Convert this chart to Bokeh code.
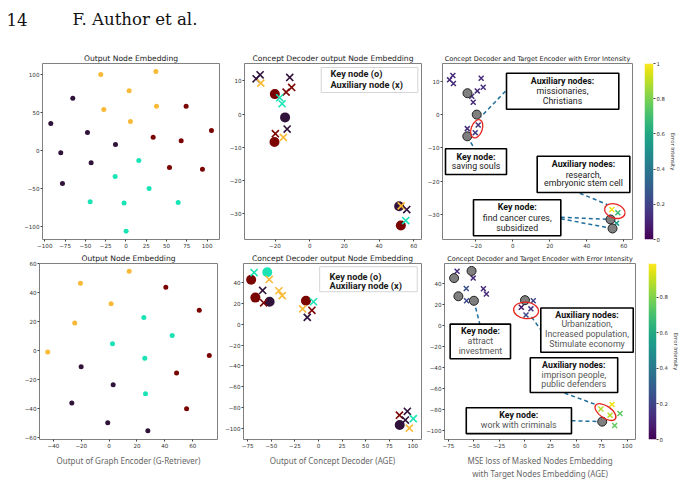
import numpy as np
from bokeh.plotting import figure
from bokeh.layouts import column, row
from bokeh.models import Range1d, FixedTicker
from bokeh.core.properties import value
from bokeh.palettes import Turbo256, Viridis256
from bokeh.embed import file_html
from bokeh.resources import INLINE

# ---------------- data ----------------
# class index: 0 dark purple, 1 turquoise, 2 orange, 3 dark red
a_x = [-65.5, -92.6, -47.4, -12.9, -80.3, -42.9, -78.2,
       15.8, -13.3, 28.5, -44.1, -2.3, 64.3, 0.2,
       -31.0, 36.8, 3.9, 37.6, -27.3, 5.5,
       74.1, 105.3, 33.5, 68.0, 53.6, 94.2]
a_y = [69.2, 35.7, 23.8, 7.9, -3.1, -16.3, -43.6,
       -13.2, -34.4, -50.2, -67.8, -69.2, -68.7, -106.6,
       100.4, 104.4, 78.9, 58.6, 54.2, 38.3,
       58.6, 26.4, 17.6, 12.8, -22.5, -24.7]
a_cls = [0, 0, 0, 0, 0, 0, 0, 1, 1, 1, 1, 1, 1, 1, 2, 2, 2, 2, 2, 2, 3, 3, 3, 3, 3, 3]

d_x = [14.4, -20.6, 1.4, -24.7, -44.1, 40.7, 64.7, 71.9, 48.4, 55.6,
       24.9, 45.3, 2.4, 25.6, 26.1, -20.1, 2.9, -26.8, -1.0, 27.8]
d_y = [54.7, 46.4, 32.2, 18.9, -1.1, 43.7, 27.8, -3.4, -15.6, -40.2,
       22.8, 10.3, 4.6, -5.3, -29.9, -11.3, -23.7, -36.3, -49.9, -55.4]
d_cls = [2, 2, 2, 2, 2, 3, 3, 3, 3, 3, 1, 1, 1, 1, 1, 0, 0, 0, 0, 0]

b_key_x = [-20.1, -14.2, -20.3, 51.6, 52.6]
b_key_y = [6.0, -1.0, -8.4, -27.7, -33.5]
b_key_cls = [3, 0, 3, 0, 3]
b_aux_x = [-28.6, -30.9, -28.2, -11.5, -10.4, -13.6, -17.3, -15.9, -13.0, -19.8, -15.2, 52.8, 56.0, 55.4]
b_aux_y = [11.8, 10.6, 9.3, 11.0, 8.0, 6.6, 4.9, 3.1, -4.5, -5.9, -7.0, -27.6, -28.7, -32.0]
b_aux_cls = [0, 0, 2, 0, 3, 3, 1, 1, 0, 3, 2, 2, 0, 1]

e_key_x = [-54.3, -71.4, -66.9, -51.8, -13.3, 86.1]
e_key_y = [50.0, 42.8, 25.6, 21.6, 22.5, -96.9]
e_key_cls = [1, 3, 3, 0, 3, 0]
e_aux_x = [-68.3, -52.2, -59.2, -58.1, -42.0, -38.5, -5.3, -16.8, -7.0, -11.9, 85.8, 94.2, 92.1, 100.5, 96.3]
e_aux_y = [49.7, 43.1, 32.5, 20.6, 32.2, 27.5, 21.6, 14.7, 13.4, 6.6, -87.5, -83.8, -92.2, -90.9, -100.0]
e_aux_cls = [1, 2, 0, 3, 2, 2, 1, 2, 3, 0, 3, 0, 0, 1, 2]

c_key_x = [-24.5, -19.5, -24.6, 52.8, 53.9]
c_key_y = [6.4, 0.0, -6.5, -31.4, -34.1]
c_aux_x = [-32.4, -34.2, -32.1, -17.1, -16.0, -19.2, -22.2, -21.4, -24.6, -18.7, -20.3, 53.5, 56.8, 56.1]
c_aux_y = [11.7, 10.4, 9.3, 10.9, 8.2, 7.1, 5.5, 3.7, -4.2, -3.1, -5.4, -28.4, -29.4, -32.5]
c_err = [0.12, 0.12, 0.12, 0.12, 0.14, 0.12, 0.12, 0.12, 0.14, 0.14, 0.18, 0.98, 0.68, 0.55]
c_err_max = 1.0
c_groups = [[9, 10], [11, 12]]

f_key_x = [-69.4, -52.3, -65.2, -50.0, 0.0, 75.6]
f_key_y = [44.7, 51.5, 27.4, 23.1, 23.7, -92.0]
f_aux_x = [-66.5, -50.7, -57.5, -40.7, -37.8, -57.2, 8.1, -3.6, 5.8, 1.0, 74.3, 85.2, 83.3, 93.0, 87.8]
f_aux_y = [51.2, 44.7, 34.8, 34.5, 29.6, 23.1, 23.1, 16.9, 15.4, 9.5, -80.0, -75.6, -85.8, -84.3, -95.7]
f_err = [0.12, 0.12, 0.25, 0.12, 0.12, 0.22, 0.20, 0.06, 0.15, 0.22, 0.88, 0.97, 0.88, 0.75, 0.75]
f_err_max = 0.99
f_groups = [[7, 8, 9], [10, 12]]

a_xticks = [-100, -75, -50, -25, 0, 25, 50, 75, 100]
a_yticks = [-100, -50, 0, 50, 100]
b_xticks = [-20, 0, 20, 40, 60]
b_yticks = [-30, -20, -10, 0, 10]
d_xticks = [-40, -20, 0, 20, 40, 60]
d_yticks = [-60, -40, -20, 0, 20, 40, 60]
e_xticks = [-75, -50, -25, 0, 25, 50, 75, 100]
e_yticks = [-100, -80, -60, -40, -20, 0, 20, 40]
cb1_ticks = [0.0, 0.2, 0.4, 0.6, 0.8, 1.0]
cb2_ticks = [0.0, 0.2, 0.4, 0.6, 0.8]

CLASS_COLORS = [Turbo256[0], Turbo256[85], Turbo256[170], Turbo256[255]]
LEADER = "#1f6e9c"
TICK_FS = "5.6px"
BOX_FS = "8.8px"

# ---------------- layout (page pixels) ----------------
# name: (fig_x0, fig_y0, width, height, frame(l, r, t, b), xrange, yrange)
SPEC = {
    'A': (0, 45, 225, 205, (42, 219, 63, 239), (-102.8, 115.2), (-117.6, 115.0)),
    'B': (225, 45, 198, 205, (244, 421, 63, 239), (-37.6, 64.5), (-37.7, 15.2)),
    'C': (423, 45, 217, 205, (442, 632, 63, 239), (-38.0, 64.7), (-37.4, 15.3)),
    'CB1': (640, 45, 42, 205, (644, 653, 63, 240), (0, 1), (0, c_err_max)),
    'D': (0, 250, 222, 254, (39, 217, 263, 439), (-50.0, 77.8), (-61.4, 60.0)),
    'E': (222, 250, 201, 254, (241, 421, 261, 442), (-79.5, 109.2), (-110.9, 58.4)),
    'F': (423, 250, 220, 254, (442, 635, 261, 442), (-78.8, 108.2), (-109.0, 58.6)),
    'CB2': (643, 250, 39, 254, (648, 656, 262, 442), (0, 1), (0, f_err_max)),
}


def px(name, X, Y):
    s = SPEC[name]
    l, r, t, b = s[4]
    xs, xe = s[5]
    ys, ye = s[6]
    return xs + (X - l) / (r - l) * (xe - xs), ye - (Y - t) / (b - t) * (ye - ys)


def fmt(v):
    return ("\u2212" + str(abs(v))) if v < 0 else str(v)


def make_fig(name, title=None, title_fs="7.6px", **kw):
    x0, y0, w, h, (l, r, t, b), xr, yr = SPEC[name]
    p = figure(width=w, height=h, x_range=Range1d(*xr), y_range=Range1d(*yr),
               output_backend="svg", toolbar_location=None,
               min_border_left=l - x0, min_border_right=x0 + w - r,
               min_border_top=t - y0, min_border_bottom=y0 + h - b, **kw)
    p.xgrid.visible = False
    p.ygrid.visible = False
    p.background_fill_color = "white"
    p.border_fill_color = "white"
    if title:
        p.title.text = title
        p.title.align = "center"
        p.title.text_font = "DejaVu Sans"
        p.title.text_font_size = title_fs
        p.title.text_font_style = "normal"
        p.title.text_color = "#222222"
        p.title.standoff = 1
    return p


def style_axes(p, xticks, yticks):
    p.outline_line_color = "#808080"
    p.outline_line_width = 1
    for ax in list(p.xaxis) + list(p.yaxis):
        ax.axis_line_color = None
        ax.major_tick_in = 0
        ax.major_tick_out = 2
        ax.major_tick_line_color = "#444444"
        ax.minor_tick_line_color = None
        ax.major_label_text_font = "DejaVu Sans"
        ax.major_label_text_font_size = TICK_FS
        ax.major_label_text_color = "#333333"
        ax.major_label_standoff = 1
    p.xaxis.ticker = FixedTicker(ticks=xticks)
    p.yaxis.ticker = FixedTicker(ticks=yticks)
    p.xaxis.major_label_overrides = {t: fmt(t) for t in xticks}
    p.yaxis.major_label_overrides = {t: fmt(t) for t in yticks}


def set_xlabel(p, text):
    p.xaxis.axis_label = text
    p.xaxis.axis_label_text_font = "Noto Sans"
    p.xaxis.axis_label_text_font_size = "8px"
    p.xaxis.axis_label_text_font_style = "normal"
    p.xaxis.axis_label_text_color = "#666666"
    p.xaxis.axis_label_standoff = 4


def add_box(p, name, box, lines, cx, normal_color="#222222"):
    l, r, t, b = box
    xl, yt = px(name, l, t)
    xr_, yb = px(name, r, b)
    p.quad(left=[xl], right=[xr_], top=[yt], bottom=[yb], fill_color="white",
           line_color="black", line_width=1.6)
    for (txt, bold, ly) in lines:
        xx, yy = px(name, cx, ly)
        p.text(x=[xx], y=[yy], text=[txt], text_align="center", text_baseline="middle",
               text_font=value("Roboto"), text_font_size=BOX_FS,
               text_font_style="bold" if bold else "normal",
               text_color="#111111" if bold else normal_color)


def add_leader(p, name, p1, p2):
    # p1/p2: ('px', X, Y) in page pixels or ('d', x, y) in data
    pts = []
    for q in (p1, p2):
        if q[0] == 'px':
            pts.append(px(name, q[1], q[2]))
        else:
            pts.append((q[1], q[2]))
    p.line(x=[pts[0][0], pts[1][0]], y=[pts[0][1], pts[1][1]], line_dash="4 3",
           line_color=LEADER, line_width=1.5)


def add_ellipse(p, xs, ys, idx, w, h, ang):
    cx = float(np.mean([xs[i] for i in idx]))
    cy = float(np.mean([ys[i] for i in idx]))
    p.ellipse(x=[cx], y=[cy], width=w, height=h, angle=ang, width_units="screen",
              height_units="screen", fill_color=None, line_color="#e8231c", line_width=1.3)


def viridis(e, vmax):
    return Viridis256[int(round(min(e / vmax, 1.0) * 255))]


# ---------------- header ----------------
hdr = figure(width=682, height=45, x_range=Range1d(0, 682), y_range=Range1d(45, 0),
             output_backend="svg", toolbar_location=None, min_border=0,
             x_axis_location=None, y_axis_location=None)
hdr.outline_line_color = None
hdr.xgrid.visible = False
hdr.ygrid.visible = False
hdr.text(x=[6, 72], y=[19, 19], text=["14", "F. Author et al."], text_font=value("DejaVu Serif"),
         text_font_size="16.6px", text_baseline="alphabetic", text_color="#111111")

# ---------------- panel A ----------------
pA = make_fig('A', "Output Node Embedding")
style_axes(pA, a_xticks, a_yticks)
pA.scatter(a_x, a_y, size=5, color=[CLASS_COLORS[c] for c in a_cls], line_color=None)

# ---------------- panel D ----------------
pD = make_fig('D', "Output Node Embedding")
style_axes(pD, d_xticks, d_yticks)
pD.scatter(d_x, d_y, size=5, color=[CLASS_COLORS[c] for c in d_cls], line_color=None)
set_xlabel(pD, "Output of Graph Encoder (G-Retriever)")


# ---------------- panels B / E ----------------
def concept_panel(name, kx, ky, kc, ax_, ay_, ac, legend_box, legend_lines_y, legend_x):
    p = make_fig(name, "Concept Decoder output Node Embedding")
    p.scatter(kx, ky, size=10, color=[CLASS_COLORS[c] for c in kc], line_color=None)
    p.scatter(ax_, ay_, marker="x", size=10, line_width=1.6,
              line_color=[CLASS_COLORS[c] for c in ac])
    l, r, t, b = legend_box
    xl, yt = px(name, l, t)
    xr_, yb = px(name, r, b)
    p.quad(left=[xl], right=[xr_], top=[yt], bottom=[yb], fill_color="white", fill_alpha=0.85,
           line_color="#d6d6d6", line_width=1)
    for txt, ly in zip(["Key node (o)", "Auxiliary node (x)"], legend_lines_y):
        xx, yy = px(name, legend_x, ly)
        p.text(x=[xx], y=[yy], text=[txt], text_align="left", text_baseline="middle",
               text_font=value("Roboto"), text_font_size="9.2px", text_font_style="bold",
               text_color="#1a1a1a")
    return p


pB = concept_panel('B', b_key_x, b_key_y, b_key_cls, b_aux_x, b_aux_y, b_aux_cls,
                   (320.7, 417.3, 67, 92), [73.3, 84], 330)
style_axes(pB, b_xticks, b_yticks)
pE = concept_panel('E', e_key_x, e_key_y, e_key_cls, e_aux_x, e_aux_y, e_aux_cls,
                   (318, 416.7, 264.3, 290), [274, 284], 328)
style_axes(pE, e_xticks, e_yticks)
set_xlabel(pE, "Output of Concept Decoder (AGE)")

# ---------------- panel C ----------------
pC = make_fig('C', "Concept Decoder and Target Encoder with Error Intensity", title_fs="6.5px")
style_axes(pC, b_xticks, b_yticks)
add_leader(pC, 'C', ('px', 505, 90.7), ('px', 480, 116.7))
add_leader(pC, 'C', ('d', c_key_x[2], c_key_y[2]), ('px', 474, 148.3))
add_leader(pC, 'C', ('px', 579.3, 192.7), ('px', 606.7, 204))
add_leader(pC, 'C', ('px', 560.3, 216.7), ('d', c_key_x[3], c_key_y[3]))
add_leader(pC, 'C', ('px', 560.3, 218.3), ('d', c_key_x[4], c_key_y[4]))
pC.scatter(c_aux_x, c_aux_y, marker="x", size=7, line_width=1.5,
           line_color=[viridis(e, c_err_max) for e in c_err])
pC.scatter(c_key_x, c_key_y, size=9, fill_color="#7f7f7f", line_color="#222222", line_width=1)
add_ellipse(pC, c_aux_x, c_aux_y, c_groups[0], 11, 19, -0.35)
add_ellipse(pC, c_aux_x, c_aux_y, c_groups[1], 21, 14, -0.3)
add_box(pC, 'C', (506, 618.3, 72.7, 108.7),
        [("Auxiliary nodes:", True, 80), ("missionaries,", False, 90.7), ("Christians", False, 100.7)], 562)
add_box(pC, 'C', (445, 506, 148.3, 174),
        [("Key node:", True, 156), ("saving souls", False, 165.7)], 475.5)
add_box(pC, 'C', (536.7, 629.3, 155.7, 192),
        [("Auxiliary nodes:", True, 163.3), ("research,", False, 174), ("embryonic stem cell", False, 182.7)], 583)
add_box(pC, 'C', (473, 560.3, 199.3, 235.3),
        [("Key node:", True, 206.7), ("find cancer cures,", False, 217.3), ("subsidized", False, 227)], 516.7)

# ---------------- panel F ----------------
pF = make_fig('F', "Concept Decoder and Target Encoder with Error Intensity", title_fs="6.5px")
style_axes(pF, e_xticks, e_yticks)
set_xlabel(pF, "MSE loss of Masked Nodes Embedding\nwith Target Nodes Embedding (AGE)")
add_leader(pF, 'F', ('d', f_key_x[3], f_key_y[3]), ('px', 477.7, 323.3))
add_leader(pF, 'F', ('px', 530, 316), ('px', 539.3, 329.3))
add_leader(pF, 'F', ('px', 563.3, 394.3), ('px', 596.7, 406.7))
add_leader(pF, 'F', ('px', 570.3, 422.7), ('d', f_key_x[5], f_key_y[5]))
pF.scatter(f_aux_x, f_aux_y, marker="x", size=7, line_width=1.5,
           line_color=[viridis(e, f_err_max) for e in f_err])
pF.scatter(f_key_x, f_key_y, size=9, fill_color="#7f7f7f", line_color="#222222", line_width=1)
add_ellipse(pF, f_aux_x, f_aux_y, f_groups[0], 25, 16.5, -0.1)
add_ellipse(pF, f_aux_x, f_aux_y, f_groups[1], 24, 12, -0.6)
add_box(pF, 'F', (447.7, 508.7, 323.3, 359),
        [("Key node:", True, 330.7), ("attract", False, 340.7), ("investment", False, 351)], 478.3,
        normal_color="#555555")
add_box(pF, 'F', (539.3, 632.7, 306.7, 352.3),
        [("Auxiliary nodes:", True, 314), ("Urbanization,", False, 323.7),
         ("Increased population,", False, 333.7), ("Stimulate economy", False, 344)], 586,
        normal_color="#555555")
add_box(pF, 'F', (528.7, 617, 358, 393.7),
        [("Auxiliary nodes:", True, 365.7), ("imprison people,", False, 376), ("public defenders", False, 384.7)],
        572.7, normal_color="#555555")
add_box(pF, 'F', (464, 570.3, 409.3, 436),
        [("Key node:", True, 416.7), ("work with criminals", False, 426.7)], 517,
        normal_color="#555555")


# ---------------- colorbars ----------------
def make_cbar(name, vmax, ticks):
    p = make_fig(name, None, x_axis_location=None, y_axis_location="right")
    grad = np.linspace(0, vmax, 256).reshape(256, 1)
    p.image(image=[grad], x=0, y=0, dw=1, dh=vmax, palette=Viridis256)
    p.outline_line_color = None
    ax = p.yaxis[0]
    ax.axis_line_color = None
    ax.ticker = FixedTicker(ticks=ticks)
    ax.major_tick_in = 0
    ax.major_tick_out = 2
    ax.minor_tick_line_color = None
    ax.major_tick_line_color = "#444444"
    ax.major_label_text_font = "DejaVu Sans"
    ax.major_label_text_font_size = "5.3px"
    ax.major_label_text_color = "#333333"
    ax.major_label_standoff = 1
    ax.axis_label = "Error Intensity"
    ax.axis_label_text_font = "DejaVu Sans"
    ax.axis_label_text_font_size = "5.3px"
    ax.axis_label_text_font_style = "normal"
    ax.axis_label_text_color = "#333333"
    ax.axis_label_standoff = 2
    return p


cb1 = make_cbar('CB1', c_err_max, cb1_ticks)
cb2 = make_cbar('CB2', f_err_max, cb2_ticks)

layout = column(hdr, row(pA, pB, pC, cb1), row(pD, pE, pF, cb2))
open("out.html", "w").write(file_html(layout, INLINE))
